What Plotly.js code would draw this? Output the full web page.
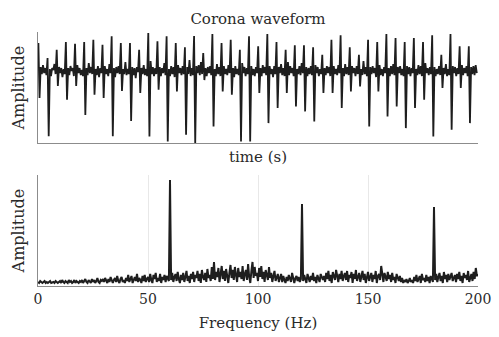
<!DOCTYPE html>
<html>
<head>
<meta charset="utf-8">
<script src="https://cdn.plot.ly/plotly-3.0.1.min.js"></script>
<style>html,body{margin:0;padding:0;background:#fff;}#chart{width:499px;height:337px;}</style>
</head>
<body>
<div id="chart"></div>
<script>
// ---- Top panel: corona waveform (uniformly sampled) ----
// Each pulse period: one upward sample, one downward sample, then six noise samples.
const pulseUp = [2.8,1.3,2.13,2.9,2.73,2.9,3.13,2.63,3.47,2.8,2.8,2.13,
  3.8,2.97,3.47,2.8,2.37,3.5,1.8,3.7,2.8,3.13,2.13,3.47,
  2.47,3.7,2.9,2.13,2.57,2.57,2.37,1.63,3.13,3.57,2.37,1.63,
  3.13,2.9,3.7,3.3,2.9,3.3,2.9,3.57,1.63,3.7,2.47,2.47];
const pulseDown = [-2.7,-6.5,-1.5,-2.87,-1.5,-4.4,-2.37,-2.7,-6.5,-2.0,-5.0,-2.2,
  -6.53,-1.87,-7.03,-2.03,-6.37,-7.2,-0.9,-5.53,-2.03,-2.37,-7.03,-7.03,
  -2.2,-5.2,-3.7,-2.2,-3.53,-4.03,-5.03,-2.2,-2.2,-3.7,-2.03,-1.53,
  -5.53,-2.03,-4.53,-3.53,-5.7,-3.7,-2.87,-6.53,-1.7,-5.87,-1.7,-5.2];
const backgroundNoise = [
  0.4,-0.3,0.6,-0.2,0.3,-0.4, 0.2,-0.5,0.3,0.1,0.7,-0.3, 0.4,-0.2,0.3,-0.6,0.2,-0.3, 0.3,-0.4,0.5,0.0,0.3,-0.5,
  0.6,-0.2,0.3,-0.4,0.1,-0.5, 0.3,-0.4,0.8,-0.2,0.4,-0.3, 0.2,-0.4,0.5,-0.6,0.3,-0.2, 0.5,-0.3,0.2,-0.5,0.7,-0.2,
  0.3,-0.6,0.4,-0.2,0.5,-0.3, 0.2,-0.3,0.9,-0.4,0.2,-0.3, 0.4,-0.4,0.3,-0.7,0.4,-0.1, 0.3,-0.3,0.6,-0.4,0.2,-0.5,
  1.0,-0.3,0.4,-0.5,0.3,-0.3, 0.4,-0.5,0.3,-0.2,0.8,-0.4, 0.2,-0.5,0.5,-0.3,0.4,-0.6, 0.6,-0.2,0.3,-0.4,0.5,-0.3,
  0.4,-0.3,1.1,-0.5,0.3,-0.4, 0.5,-0.2,0.6,-0.4,0.9,-0.3, 0.3,-0.5,0.4,-0.2,0.5,-0.4, 0.2,-0.5,0.7,-0.3,0.4,-0.5,
  0.5,-0.3,0.2,-0.4,0.6,-0.2, 0.3,-0.6,0.5,-0.3,0.2,-0.4, 0.8,-0.2,0.4,-0.5,0.3,-0.3, 0.5,-0.4,0.2,-0.5,0.4,-0.2,
  0.3,-0.5,0.6,-0.2,0.4,-0.4, 0.5,-0.3,0.2,-0.6,0.5,-0.3, 0.4,-0.2,0.7,-0.4,0.3,-0.5, 0.9,-0.4,0.5,-0.2,0.3,-0.5,
  0.2,-0.3,0.5,-0.4,0.8,-0.2, 0.4,-0.5,0.3,-0.3,0.5,-0.4, 0.6,-0.2,0.4,-0.5,0.2,-0.3, 0.3,-0.4,0.5,-0.2,0.4,-0.5,
  0.5,-0.3,0.2,-0.4,0.6,-0.2, 0.3,-0.5,0.7,-0.3,0.4,-0.4, 0.5,-0.2,0.3,-0.5,0.5,-0.3, 0.2,-0.4,1.0,-0.3,0.4,-0.5,
  0.4,-0.3,0.5,-0.2,0.3,-0.6, 0.6,-0.4,0.2,-0.5,0.4,-0.2, 0.3,-0.5,0.5,-0.3,0.7,-0.4, 0.4,-0.2,0.5,-0.4,0.2,-0.5,
  0.5,-0.3,0.4,-0.5,0.3,-0.2, 0.2,-0.4,0.6,-0.3,0.5,-0.5, 0.8,-0.2,0.3,-0.4,0.4,-0.3, 0.4,-0.5,0.2,-0.3,0.5,-0.4,
  0.3,-0.3,0.7,-0.5,0.2,-0.4, 0.5,-0.2,0.4,-0.5,0.3,-0.3, 0.6,-0.4,0.3,-0.2,0.5,-0.5, 0.4,-0.3,0.5,-0.4,0.6,-0.2
];
const sampleStart = 0.4;   // time of first sample
const sampleStep = 1.146;  // sampling interval

// ---- Bottom panel: amplitude spectrum, 0.5 Hz bins from 0 to 200 Hz ----
const freqStep = 0.5;
const spectrum = [
  4,3,5,4,3,4,5,3,4,3,4,5,3,4,4,3,5,4,3,4,
  5,3,6,4,3,5,4,3,6,4,5,3,4,6,3,5,4,3,5,4,
  6,3,5,7,4,3,6,5,3,7,4,6,3,5,8,4,3,6,5,7,
  4,8,5,3,7,4,9,5,3,6,8,4,10,5,3,7,9,4,6,3,
  8,5,11,4,7,10,3,6,9,5,12,4,8,6,3,10,5,11,4,7,
  9,4,12,6,3,11,7,13,4,8,5,12,3,9,6,11,4,10,7,5,
  106,6,13,4,9,12,5,14,7,3,11,6,13,4,9,15,5,10,3,12,
  7,14,4,11,8,15,5,12,3,16,9,6,13,4,17,8,11,5,19,7,
  24,6,14,9,18,4,12,20,7,15,5,17,10,3,13,21,8,16,6,19,
  11,4,18,9,14,7,20,5,12,16,6,22,9,3,15,24,8,19,10,13,
  5,18,9,20,7,14,4,16,11,6,19,8,13,4,10,15,5,9,12,4,
  8,12,4,10,6,3,9,5,11,7,4,13,6,3,8,10,5,9,4,7,
  82,5,11,7,3,12,8,4,10,6,13,5,9,3,11,7,4,12,8,6,
  10,4,13,7,15,5,11,3,14,8,6,16,9,4,12,7,15,5,10,13,
  6,15,4,11,8,14,3,12,7,16,5,10,13,4,9,15,6,12,3,11,
  14,5,9,13,4,11,7,15,3,10,12,6,20,8,4,13,9,5,14,7,
  11,4,13,6,9,3,12,7,5,10,4,8,3,6,4,7,3,5,8,4,
  6,3,9,5,11,4,7,10,3,12,6,8,4,11,5,9,3,10,7,4,
  79,6,12,4,9,13,5,10,3,14,7,11,4,12,6,9,13,5,8,11,
  4,12,7,14,5,10,3,13,8,11,6,15,4,9,12,5,14,7,18,10,
  12
];
const freqTicks = [0, 50, 100, 150, 200];

// ---- build series ----
const waveform = [];
for (let k = 0; k < pulseUp.length; k++) {
  waveform.push(pulseUp[k], pulseDown[k]);
  for (let j = 0; j < 6; j++) waveform.push(backgroundNoise[k * 6 + j]);
}
const time = waveform.map((_, i) => sampleStart + i * sampleStep);
const freq = spectrum.map((_, i) => i * freqStep);

const ink = 'rgb(30,30,30)';
const txt = '#2a2a2a';
const fontFam = 'DejaVu Serif, Liberation Serif, serif';
const spine = '#8c8c8c';

const traces = [
  {x: time, y: waveform, type: 'scatter', mode: 'lines', xaxis: 'x', yaxis: 'y',
   line: {color: ink, width: 1.8}, hoverinfo: 'skip'},
  {x: freq, y: spectrum, type: 'scatter', mode: 'lines', xaxis: 'x2', yaxis: 'y2',
   line: {color: ink, width: 2}, hoverinfo: 'skip'}
];

const layout = {
  width: 499, height: 337,
  margin: {l: 38.3, r: 20.7, t: 32, b: 51.3, pad: 0},
  paper_bgcolor: '#fff', plot_bgcolor: '#fff',
  showlegend: false,
  font: {family: fontFam, color: txt, size: 15},
  title: {text: 'Corona waveform', font: {family: fontFam, size: 15, color: txt},
          x: 0.5, xref: 'paper', xanchor: 'center', y: 1 - 19 / 337, yref: 'container', yanchor: 'middle'},
  xaxis: {domain: [0, 1], anchor: 'y', range: [0, 440.5], showline: true, linecolor: spine, linewidth: 1,
          showgrid: false, zeroline: false, showticklabels: false, ticks: '', automargin: false,
          title: {text: 'time (s)', font: {family: fontFam, size: 15, color: txt}, standoff: 8}},
  yaxis: {domain: [0.5613, 1], anchor: 'x', range: [-7.23, 3.9], showline: true, linecolor: spine, linewidth: 1,
          showgrid: false, zeroline: false, showticklabels: false, ticks: '', automargin: false,
          title: {text: 'Amplitude', font: {family: fontFam, size: 16, color: txt}, standoff: 8}},
  xaxis2: {domain: [0, 1], anchor: 'y2', range: [0, 200], showline: true, linecolor: spine, linewidth: 1,
           tickmode: 'array', tickvals: freqTicks, ticktext: freqTicks.map(String), ticks: '',
           tickfont: {family: fontFam, size: 14, color: txt},
           showgrid: true, gridcolor: '#e8e8e8', gridwidth: 1, zeroline: false, automargin: false,
           title: {text: 'Frequency (Hz)', font: {family: fontFam, size: 15, color: txt}, standoff: 11}},
  yaxis2: {domain: [0, 0.4363], anchor: 'x2', range: [0, 110.7], showline: true, linecolor: spine, linewidth: 1,
           showgrid: false, zeroline: false, showticklabels: false, ticks: '', automargin: false,
           title: {text: 'Amplitude', font: {family: fontFam, size: 16, color: txt}, standoff: 8}}
};

Plotly.newPlot('chart', traces, layout, {staticPlot: true, displayModeBar: false});
</script>
</body>
</html>
